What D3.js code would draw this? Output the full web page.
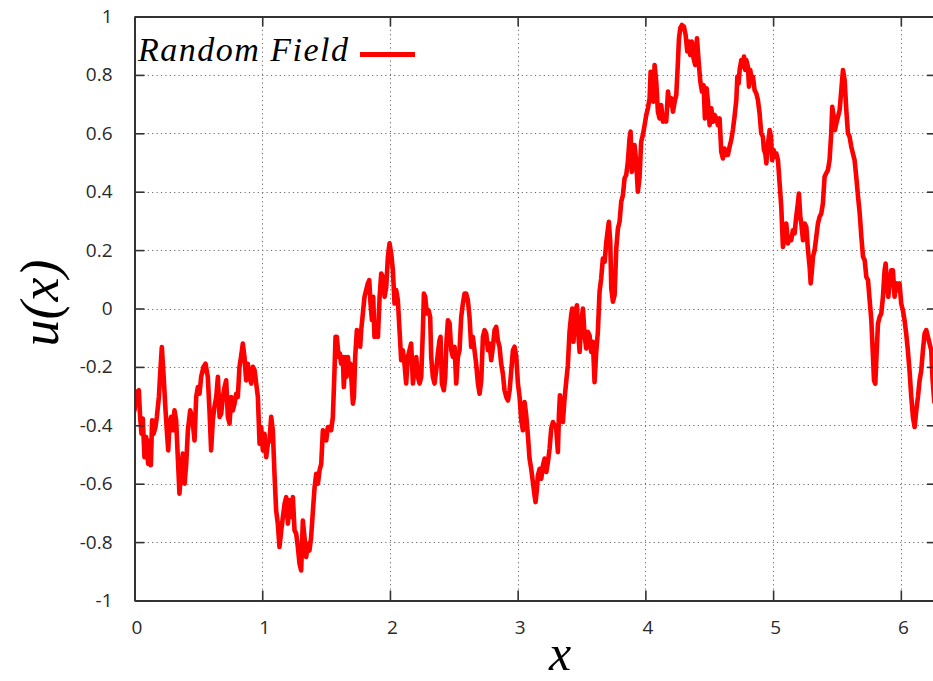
<!DOCTYPE html>
<html>
<head>
<meta charset="utf-8">
<script src="https://cdn.jsdelivr.net/npm/d3@7"></script>
<style>
  html, body { margin: 0; padding: 0; background: #fff; }
  svg { display: block; }
</style>
</head>
<body>
<svg id="chart" width="933" height="681"></svg>
<script>
// Sampled path of the random field u(x) on [0, 2π]
const fieldSamples = [
  [0,-0.349],[0.018,-0.286],[0.034,-0.280],[0.044,-0.371],[0.055,-0.429],[0.065,-0.377],[0.078,-0.509],[0.091,-0.440],
  [0.107,-0.532],[0.117,-0.452],[0.128,-0.537],[0.138,-0.383],[0.149,-0.429],[0.164,-0.406],[0.175,-0.371],[0.191,-0.303],
  [0.201,-0.223],[0.214,-0.132],[0.227,-0.223],[0.243,-0.349],[0.253,-0.417],[0.264,-0.486],[0.274,-0.394],[0.287,-0.371],
  [0.300,-0.417],[0.313,-0.349],[0.326,-0.383],[0.339,-0.509],[0.352,-0.634],[0.365,-0.554],[0.378,-0.497],[0.392,-0.600],
  [0.405,-0.532],[0.418,-0.417],[0.436,-0.349],[0.452,-0.371],[0.470,-0.452],[0.483,-0.303],[0.496,-0.269],[0.509,-0.292],
  [0.522,-0.234],[0.540,-0.200],[0.556,-0.189],[0.574,-0.234],[0.587,-0.349],[0.600,-0.486],[0.613,-0.383],[0.626,-0.337],
  [0.640,-0.303],[0.653,-0.234],[0.666,-0.371],[0.679,-0.360],[0.692,-0.303],[0.705,-0.269],[0.718,-0.246],[0.731,-0.371],
  [0.744,-0.394],[0.757,-0.303],[0.770,-0.349],[0.783,-0.326],[0.796,-0.292],[0.809,-0.303],[0.822,-0.200],[0.838,-0.154],
  [0.848,-0.120],[0.861,-0.166],[0.874,-0.246],[0.887,-0.189],[0.901,-0.234],[0.914,-0.257],[0.927,-0.200],[0.940,-0.211],
  [0.953,-0.257],[0.966,-0.303],[0.979,-0.463],[0.992,-0.406],[1.005,-0.486],[1.018,-0.429],[1.031,-0.509],[1.044,-0.463],
  [1.057,-0.452],[1.070,-0.371],[1.083,-0.417],[1.096,-0.566],[1.109,-0.692],[1.122,-0.737],[1.135,-0.817],[1.149,-0.760],
  [1.162,-0.714],[1.175,-0.669],[1.188,-0.646],[1.201,-0.737],[1.214,-0.657],[1.227,-0.714],[1.240,-0.646],[1.253,-0.760],
  [1.266,-0.771],[1.279,-0.817],[1.292,-0.874],[1.305,-0.897],[1.318,-0.726],[1.331,-0.783],[1.344,-0.851],[1.357,-0.806],
  [1.370,-0.829],[1.383,-0.783],[1.397,-0.692],[1.410,-0.612],[1.423,-0.566],[1.436,-0.600],[1.449,-0.554],[1.462,-0.532],
  [1.475,-0.417],[1.488,-0.429],[1.501,-0.452],[1.514,-0.406],
  [1.527,-0.406],[1.540,-0.417],[1.553,-0.372],[1.566,-0.212],[1.574,-0.097],[1.584,-0.097],[1.598,-0.166],[1.608,-0.154],
  [1.618,-0.189],[1.631,-0.166],[1.639,-0.269],[1.650,-0.166],[1.660,-0.234],[1.671,-0.166],[1.681,-0.212],[1.691,-0.189],
  [1.702,-0.269],[1.710,-0.326],[1.718,-0.303],[1.728,-0.166],[1.741,-0.074],[1.754,-0.086],[1.767,-0.131],[1.775,-0.074],
  [1.788,-0.017],[1.801,0.040],[1.814,0.063],[1.827,0.086],[1.838,0.097],[1.848,0.017],[1.859,-0.040],[1.869,0.040],
  [1.879,-0.097],[1.892,-0.086],[1.906,-0.097],[1.919,0.040],[1.932,0.120],[1.945,0.108],[1.958,0.040],[1.971,0.074],
  [1.984,0.177],[1.997,0.223],[2.010,0.188],[2.023,0.131],[2.036,0.017],[2.049,0.063],[2.062,0.028],[2.075,-0.074],
  [2.088,-0.177],[2.101,-0.143],[2.114,-0.189],[2.127,-0.257],[2.140,-0.166],[2.153,-0.143],[2.166,-0.120],[2.180,-0.257],
  [2.193,-0.200],[2.206,-0.166],[2.219,-0.234],[2.232,-0.257],[2.245,-0.234],[2.258,-0.074],[2.266,0.051],[2.276,0.040],
  [2.289,-0.017],[2.302,-0.006],[2.315,-0.029],[2.323,-0.166],[2.336,-0.234],[2.349,-0.257],[2.362,-0.212],[2.375,-0.154],
  [2.388,-0.109],[2.396,-0.097],[2.407,-0.257],[2.422,-0.280],[2.433,-0.234],[2.443,-0.109],[2.454,-0.040],[2.467,-0.051],
  [2.480,-0.143],[2.493,-0.166],[2.506,-0.131],[2.519,-0.257],[2.532,-0.166],[2.545,-0.143],[2.558,-0.029],[2.571,0.017],
  [2.584,0.051],[2.597,0.051],[2.610,0.028],[2.623,-0.029],[2.636,-0.131],[2.649,-0.097],[2.662,-0.143],[2.675,-0.189],
  [2.689,-0.257],[2.702,-0.292],[2.715,-0.246],[2.728,-0.097],[2.741,-0.074],[2.754,-0.086],[2.767,-0.143],[2.780,-0.120],
  [2.793,-0.177],[2.806,-0.131],[2.819,-0.074],[2.832,-0.063],[2.845,-0.109],[2.858,-0.131],[2.871,-0.189],[2.884,-0.223],
  [2.897,-0.280],[2.911,-0.303],[2.924,-0.315],[2.937,-0.280],[2.950,-0.212],[2.963,-0.143],[2.976,-0.131],[2.989,-0.166],
  [3.002,-0.257],[3.015,-0.303],[3.028,-0.383],[3.041,-0.417],
  [3.054,-0.320],[3.067,-0.366],[3.080,-0.434],[3.093,-0.514],[3.106,-0.549],[3.119,-0.594],[3.132,-0.640],[3.140,-0.663],
  [3.151,-0.617],[3.158,-0.572],[3.172,-0.549],[3.185,-0.583],[3.198,-0.537],[3.211,-0.514],[3.224,-0.560],[3.237,-0.526],
  [3.250,-0.480],[3.263,-0.411],[3.276,-0.389],[3.289,-0.400],[3.302,-0.411],[3.315,-0.492],[3.323,-0.366],[3.331,-0.297],
  [3.341,-0.343],[3.354,-0.389],[3.367,-0.309],[3.380,-0.252],[3.393,-0.194],[3.406,-0.080],[3.419,-0.023],[3.427,0.000],
  [3.437,-0.114],[3.451,-0.011],[3.464,0.011],[3.474,-0.080],[3.485,-0.149],[3.498,-0.046],[3.511,0.000],[3.524,-0.092],
  [3.537,-0.137],[3.550,-0.080],[3.563,-0.092],[3.576,-0.149],[3.589,-0.114],[3.602,-0.252],[3.615,-0.149],[3.628,-0.080],
  [3.641,0.057],[3.654,0.103],[3.667,0.171],[3.681,0.160],[3.694,0.228],[3.707,0.274],[3.714,0.297],[3.725,0.228],
  [3.733,0.069],[3.746,0.023],[3.759,0.046],[3.772,0.206],[3.785,0.274],[3.798,0.297],[3.811,0.366],[3.824,0.388],
  [3.837,0.446],[3.850,0.457],[3.863,0.503],[3.876,0.583],[3.884,0.606],[3.894,0.468],[3.905,0.514],[3.915,0.560],
  [3.928,0.503],[3.941,0.400],[3.954,0.446],[3.967,0.571],[3.980,0.594],[3.994,0.628],[4.007,0.663],[4.020,0.686],
  [4.033,0.720],[4.041,0.811],[4.051,0.754],[4.062,0.708],[4.072,0.834],[4.085,0.777],[4.098,0.674],[4.111,0.651],
  [4.124,0.697],[4.137,0.640],[4.150,0.663],[4.163,0.640],[4.177,0.743],[4.190,0.697],[4.203,0.720],[4.216,0.674],
  [4.229,0.708],[4.242,0.731],[4.255,0.846],[4.263,0.925],[4.273,0.960],[4.286,0.971],[4.302,0.965],[4.315,0.937],
  [4.328,0.880],[4.341,0.914],[4.351,0.868],[4.364,0.914],[4.377,0.857],[4.390,0.834],[4.404,0.925],[4.417,0.846],
  [4.430,0.777],[4.443,0.743],[4.456,0.765],[4.466,0.651],[4.479,0.754],[4.490,0.708],[4.503,0.628],[4.516,0.686],
  [4.529,0.640],[4.542,0.663],[4.555,0.651],[4.568,0.628],[4.581,0.651],[4.594,0.537],[4.607,0.514],[4.620,0.548],
  [4.633,0.526],[4.646,0.526],
  [4.659,0.554],[4.672,0.577],[4.685,0.611],[4.698,0.657],[4.712,0.714],[4.720,0.794],[4.730,0.771],[4.738,0.817],
  [4.751,0.851],[4.764,0.828],[4.772,0.863],[4.782,0.817],[4.790,0.851],[4.803,0.828],[4.811,0.760],[4.821,0.817],
  [4.832,0.783],[4.842,0.794],[4.855,0.748],[4.868,0.737],[4.881,0.714],[4.894,0.669],[4.907,0.600],[4.920,0.588],
  [4.928,0.543],[4.939,0.531],[4.947,0.497],[4.960,0.565],[4.973,0.611],[4.983,0.588],[4.993,0.508],[5.004,0.543],
  [5.014,0.520],[5.025,0.531],[5.038,0.508],[5.051,0.428],[5.064,0.348],[5.077,0.211],[5.090,0.245],[5.103,0.291],
  [5.116,0.223],[5.129,0.245],[5.142,0.234],[5.155,0.268],[5.168,0.257],[5.181,0.314],[5.194,0.360],[5.202,0.394],
  [5.213,0.314],[5.221,0.291],[5.234,0.234],[5.247,0.291],[5.260,0.280],[5.273,0.200],[5.286,0.143],[5.294,0.086],
  [5.304,0.131],[5.312,0.177],[5.325,0.200],[5.338,0.245],[5.351,0.291],[5.364,0.314],[5.377,0.325],[5.390,0.360],
  [5.403,0.451],[5.416,0.463],[5.429,0.474],[5.442,0.508],[5.455,0.600],[5.463,0.691],[5.474,0.657],[5.484,0.611],
  [5.495,0.634],[5.508,0.657],[5.521,0.680],[5.534,0.748],[5.547,0.817],[5.560,0.783],[5.573,0.680],[5.586,0.600],
  [5.599,0.588],[5.612,0.554],[5.625,0.531],[5.638,0.508],[5.651,0.451],[5.665,0.383],[5.678,0.326],[5.691,0.245],
  [5.704,0.177],[5.717,0.165],[5.730,0.108],[5.743,0.097],[5.756,0.028],[5.769,-0.040],[5.782,-0.166],[5.790,-0.246],
  [5.800,-0.257],[5.808,-0.177],[5.821,-0.052],[5.834,-0.029],[5.847,-0.017],[5.860,0.040],[5.873,0.131],[5.881,0.154],
  [5.891,0.086],[5.902,0.040],[5.912,0.086],[5.925,0.131],[5.938,0.131],[5.951,0.040],[5.964,0.086],[5.977,0.063],
  [5.990,0.086],[6.003,0.017],[6.016,-0.006],[6.029,-0.040],[6.042,-0.086],[6.055,-0.143],[6.068,-0.212],[6.082,-0.303],
  [6.095,-0.372],[6.108,-0.406],[6.121,-0.349],[6.134,-0.303],[6.147,-0.246],[6.160,-0.212],[6.173,-0.143],[6.186,-0.086],
  [6.199,-0.074],[6.212,-0.097],[6.225,-0.120],[6.238,-0.143],[6.249,-0.246],[6.262,-0.320]
];

const xTickValues = [0, 1, 2, 3, 4, 5, 6];
const yTickValues = [-1, -0.8, -0.6, -0.4, -0.2, 0, 0.2, 0.4, 0.6, 0.8, 1];
const xGridValues = [1, 2, 3, 4, 5, 6];
const yGridValues = [-0.8, -0.6, -0.4, -0.2, 0, 0.2, 0.4, 0.6, 0.8];
const seriesLabel = "Random Field";
const xTitle = "x";
const yTitle = "u(x)";

const svg = d3.select("#chart");
const plot = { left: 134.5, right: 937, top: 16.5, bottom: 600.5 };

const x = d3.scaleLinear().domain([0, 2 * Math.PI]).range([plot.left, plot.right]);
const y = d3.scaleLinear().domain([-1, 1]).range([plot.bottom, plot.top]);

const tickFont = "'Open Sans', 'DejaVu Sans', sans-serif";
const mathFont = "'Liberation Serif', 'DejaVu Serif', serif";

// Dotted grid
const grid = svg.append("g").attr("stroke", "#6a6a6a").attr("stroke-width", 1)
  .attr("stroke-dasharray", "1.2,3.2");
grid.selectAll("line.h").data(yGridValues).join("line").attr("class", "h")
  .attr("x1", plot.left).attr("x2", plot.right)
  .attr("y1", d => Math.round(y(d)) + 0.5).attr("y2", d => Math.round(y(d)) + 0.5);
grid.selectAll("line.v").data(xGridValues).join("line").attr("class", "v")
  .attr("y1", plot.top).attr("y2", plot.bottom)
  .attr("x1", d => Math.round(x(d)) + 0.5).attr("x2", d => Math.round(x(d)) + 0.5);

// Field curve
svg.append("clipPath").attr("id", "plotClip").append("rect")
  .attr("x", plot.left).attr("y", plot.top)
  .attr("width", plot.right - plot.left).attr("height", plot.bottom - plot.top);

const line = d3.line().x(d => x(d[0])).y(d => y(d[1]));
svg.append("path").datum(fieldSamples)
  .attr("clip-path", "url(#plotClip)")
  .attr("fill", "none").attr("stroke", "#ff0000").attr("stroke-width", 4.6)
  .attr("stroke-linejoin", "round").attr("stroke-linecap", "round")
  .attr("d", line);

// Frame axes with inward ticks
const tickLen = 10;
function styleAxis(g) {
  g.select(".domain").attr("stroke", "#333").attr("stroke-width", 2);
  g.selectAll(".tick line").attr("stroke", "#333").attr("stroke-width", 1.6);
}
const plainNumber = d => String(+(+d).toFixed(1));
svg.append("g").attr("transform", `translate(0,${plot.bottom})`)
  .call(d3.axisBottom(x).tickValues(xTickValues).tickSizeInner(-tickLen).tickSizeOuter(0).tickPadding(20).tickFormat(plainNumber))
  .call(styleAxis)
  .call(g => g.selectAll(".tick text").attr("font-family", tickFont).attr("font-size", 19).attr("fill", "#2a2a2a").attr("dx", 2));
svg.append("g").attr("transform", `translate(0,${plot.top})`)
  .call(d3.axisTop(x).tickValues(xTickValues).tickSizeInner(-tickLen).tickSizeOuter(0).tickFormat(""))
  .call(styleAxis);
svg.append("g").attr("transform", `translate(${plot.left},0)`)
  .call(d3.axisLeft(y).tickValues(yTickValues).tickSizeInner(-tickLen).tickSizeOuter(0).tickPadding(22).tickFormat(plainNumber))
  .call(styleAxis)
  .call(g => g.selectAll(".tick text").attr("font-family", tickFont).attr("font-size", 19).attr("fill", "#2a2a2a"));
svg.append("g").attr("transform", `translate(${plot.right},0)`)
  .call(d3.axisRight(y).tickValues(yTickValues).tickSizeInner(-tickLen).tickSizeOuter(0).tickFormat(""))
  .call(styleAxis);

// Axis titles
svg.append("text").text(xTitle)
  .attr("x", 560).attr("y", 670)
  .attr("text-anchor", "middle").attr("font-family", mathFont).attr("font-style", "italic")
  .attr("font-size", 50).attr("fill", "#000");
svg.append("text").text(yTitle)
  .attr("transform", "translate(58,303) rotate(-90)")
  .attr("text-anchor", "middle").attr("font-family", mathFont).attr("font-style", "italic")
  .attr("font-size", 54).attr("fill", "#000");

// Legend
svg.append("text").text(seriesLabel)
  .attr("x", 138).attr("y", 61)
  .attr("font-family", mathFont).attr("font-style", "italic")
  .attr("font-size", 34).attr("fill", "#000")
  .attr("textLength", 210).attr("lengthAdjust", "spacing");
svg.append("line")
  .attr("x1", 360).attr("x2", 415).attr("y1", 54.5).attr("y2", 54.5)
  .attr("stroke", "#ff0000").attr("stroke-width", 5);
</script>
</body>
</html>
